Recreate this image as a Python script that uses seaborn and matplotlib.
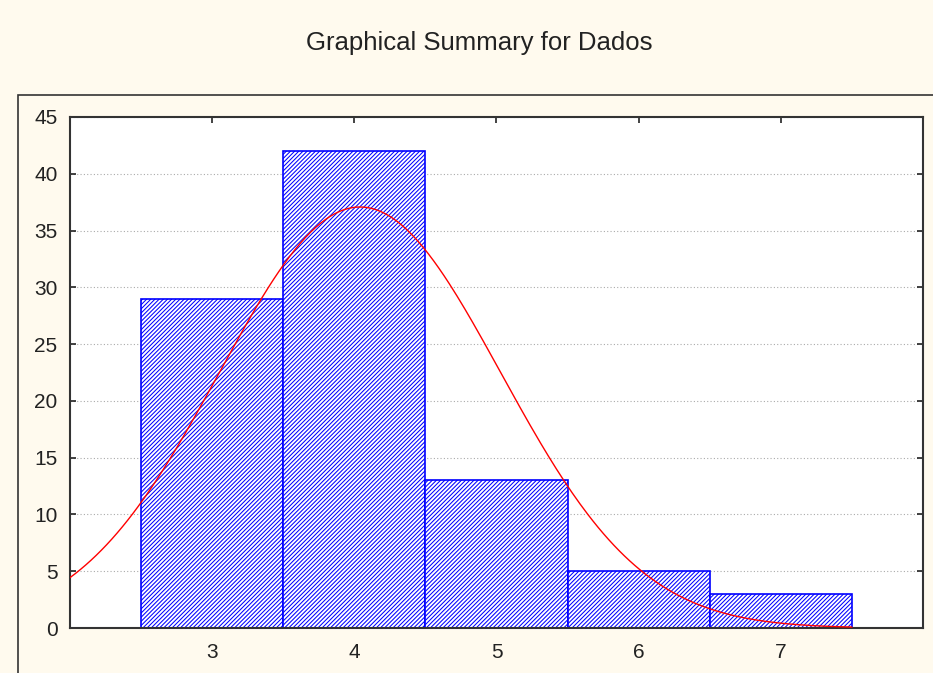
import numpy as np
import matplotlib
matplotlib.use("Agg")
import matplotlib.pyplot as plt
from matplotlib.patches import Rectangle
import seaborn as sns

# data
categories = [3, 4, 5, 6, 7]
counts = [29, 42, 13, 5, 3]
fit_mean = 4.04
fit_sd = 0.99
y_ticks = [0, 5, 10, 15, 20, 25, 30, 35, 40, 45]
x_ticks = [3, 4, 5, 6, 7]
title = "Graphical Summary for Dados"

sns.set_style("ticks")
plt.rcParams['font.family'] = ['Liberation Sans', 'DejaVu Sans']
plt.rcParams['hatch.color'] = '#0000ff'
plt.rcParams['hatch.linewidth'] = 0.75

bg = '#fffaee'
fig = plt.figure(figsize=(9.33, 6.73), dpi=100, facecolor=bg)
ax = fig.add_axes([70/933, 45/673, 853/933, 511/673])
ax.set_facecolor('white')

# outer frame
fig.patches.append(Rectangle((18/933, -0.1), 1.2, (673-95)/673 + 0.1,
                             transform=fig.transFigure, fill=False,
                             edgecolor='#333333', linewidth=1.2, zorder=0))

sns.histplot(x=categories, weights=counts, discrete=True, ax=ax,
             fill=True, alpha=1, facecolor='white', edgecolor='#0000ff',
             hatch='////////', linewidth=1.2, zorder=2)

n_total = sum(counts)
xs = np.linspace(2.0, 7.5, 300)
ys = n_total * 1.0 / (fit_sd * np.sqrt(2 * np.pi)) * np.exp(-0.5 * ((xs - fit_mean) / fit_sd) ** 2)
sns.lineplot(x=xs, y=ys, ax=ax, color='#ff0000', linewidth=1.0, zorder=3)

ax.set_xlim(2, 8)
ax.set_ylim(0, 45)
ax.set_xticks(x_ticks)
ax.set_yticks(y_ticks)
ax.set_xlabel('')
ax.set_ylabel('')
ax.set_axisbelow(True)
ax.yaxis.grid(True, linestyle=(0, (1, 2)), color='#aaaaaa', linewidth=0.8)
ax.xaxis.grid(False)

ax.tick_params(axis='both', direction='in', length=4, width=1.2, color='#222222',
               labelsize=15, labelcolor='#222222', top=True, right=True)
ax.tick_params(axis='x', pad=11)
ax.tick_params(axis='y', pad=9)
for s in ax.spines.values():
    s.set_visible(True)
    s.set_color('#333333')
    s.set_linewidth(1.5)

fig.text(479/933, 1 - 43/673, title, ha='center', va='center', fontsize=18.5, color='#222222')

fig.savefig('out.png', dpi=100, facecolor=bg)
